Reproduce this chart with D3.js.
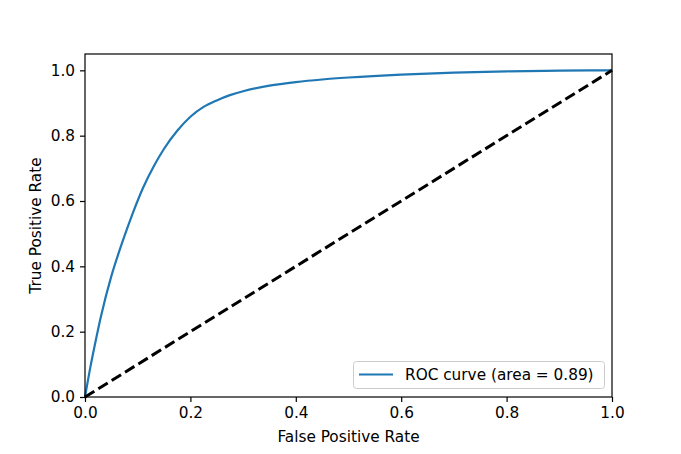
<!DOCTYPE html>
<html>
<head>
<meta charset="utf-8">
<script src="https://cdn.jsdelivr.net/npm/d3@7"></script>
<style>
  body { margin: 0; background: #fff; }
  text { font-family: "DejaVu Sans", sans-serif; }
</style>
</head>
<body>
<script>
// ROC curve values
var fpr = [0, 0.01, 0.02, 0.03, 0.05, 0.07, 0.09, 0.11, 0.13, 0.15, 0.175, 0.2, 0.225,
           0.25, 0.275, 0.3, 0.35, 0.4, 0.45, 0.5, 0.6, 0.7, 0.8, 0.9, 1.0];
var tpr = [0, 0.09, 0.17, 0.245, 0.37, 0.47, 0.56, 0.64, 0.705, 0.76, 0.815, 0.858, 0.888,
           0.908, 0.924, 0.936, 0.953, 0.964, 0.972, 0.978, 0.987, 0.993, 0.997, 0.999, 1.0];
var diagonal = [0, 1];
var xTicks = [0, 0.2, 0.4, 0.6, 0.8, 1.0];
var yTicks = [0, 0.2, 0.4, 0.6, 0.8, 1.0];
var legendLabel = 'ROC curve (area = 0.89)';

var w = 681;
var h = 454;
var fs = '15.3px';
// note: "top" is taken by window.top, so use other names
var plotL = 85, plotR = 612, plotT = 54, plotB = 397;

var svg = d3.select('body')
              .append('svg')
              .attr('width', w)
              .attr('height', h);

var x = d3.scaleLinear().domain([0, 1]).range([plotL, plotR]);
var y = d3.scaleLinear().domain([0, 1.05]).range([plotB, plotT]);

var data = fpr.map(function(f, i) { return [f, tpr[i]]; });

// curve
var line = d3.line()
  .x(function(d) { return x(d[0]); })
  .y(function(d) { return y(d[1]); })
  .curve(d3.curveMonotoneX);

svg.append('path')
  .datum(data)
  .attr('d', line)
  .attr('fill', 'none')
  .attr('stroke', '#1f77b4')
  .attr('stroke-width', 2.2);

// chance line
svg.append('path')
  .datum(diagonal.map(function(v) { return [v, v]; }))
  .attr('d', d3.line().x(function(d) { return x(d[0]); }).y(function(d) { return y(d[1]); }))
  .attr('fill', 'none')
  .attr('stroke', '#000')
  .attr('stroke-width', 3)
  .attr('stroke-dasharray', '11,4.7');

// frame
svg.append('rect')
  .attr('x', plotL)
  .attr('y', plotT)
  .attr('width', plotR - plotL)
  .attr('height', plotB - plotT)
  .attr('fill', 'none')
  .attr('stroke', '#000')
  .attr('stroke-width', 1.2);

var xAxis = d3.axisBottom(x).tickValues(xTicks).tickFormat(d3.format('.1f'))
  .tickSizeInner(5).tickSizeOuter(0).tickPadding(5);
var gx = svg.append('g').attr('transform', 'translate(0,' + plotB + ')').call(xAxis);

var yAxis = d3.axisLeft(y).tickValues(yTicks).tickFormat(d3.format('.1f'))
  .tickSizeInner(5).tickSizeOuter(0).tickPadding(5);
var gy = svg.append('g').attr('transform', 'translate(' + plotL + ',0)').call(yAxis);

[gx, gy].forEach(function(g) {
  g.select('.domain').remove();
  g.selectAll('line').attr('stroke', '#000').attr('stroke-width', 1.2);
  g.selectAll('text').attr('fill', '#000').style('font-size', fs)
    .style('font-family', '"DejaVu Sans", sans-serif');
});

svg.append('text')
  .attr('x', (plotL + plotR) / 2)
  .attr('y', 442)
  .attr('text-anchor', 'middle')
  .style('font-size', fs)
  .text('False Positive Rate');

svg.append('text')
  .attr('transform', 'translate(41,' + ((plotT + plotB) / 2) + ') rotate(-90)')
  .attr('text-anchor', 'middle')
  .style('font-size', fs)
  .text('True Positive Rate');

// legend
var lg = svg.append('g');
lg.append('rect')
  .attr('x', 353.5).attr('y', 361.5)
  .attr('width', 251).attr('height', 27)
  .attr('rx', 3).attr('ry', 3)
  .attr('fill', '#fff').attr('fill-opacity', 0.8)
  .attr('stroke', '#ccc').attr('stroke-width', 1);
lg.append('line')
  .attr('x1', 359).attr('x2', 393)
  .attr('y1', 374.5).attr('y2', 374.5)
  .attr('stroke', '#1f77b4').attr('stroke-width', 2.2);
lg.append('text')
  .attr('x', 405).attr('y', 380)
  .style('font-size', fs)
  .text(legendLabel);
</script>
</body>
</html>
